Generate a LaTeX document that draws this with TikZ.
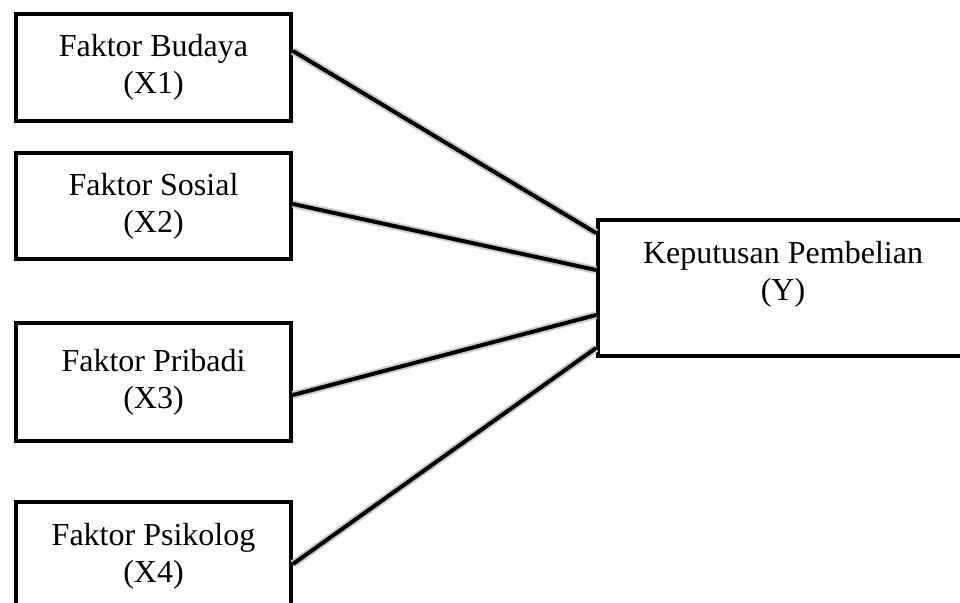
\documentclass[tikz,border=0pt]{standalone}
\usepackage{fontspec}
\setmainfont{Liberation Serif}
\usetikzlibrary{positioning}

\begin{document}
\begin{tikzpicture}
      \useasboundingbox (0,0) rectangle (960pt,-602pt);
      \begin{scope}[every node/.style={rectangle,draw,line width=4pt,align=center,
          font=\fontsize{32}{37}\selectfont,minimum width=275pt}]
        \node (X1) [minimum height=107pt] at (153.5pt,-67.5pt) {Faktor Budaya\\(X1)};
        \node (X2) [minimum height=106pt,below=28pt of X1] {Faktor Sosial\\(X2)};
        \node (X3) [minimum height=118pt,below=60pt of X2] {Faktor Pribadi\\(X3)};
        \node (X4) [minimum height=109pt,below=57pt of X3] {Faktor Psikolog\\(X4)};
        \node (Y) [minimum width=370pt,inner sep=0pt,text height=80pt,text depth=56pt]
          at (783pt,-288pt) {Keputusan Pembelian\\(Y)};
      \end{scope}
      \begin{scope}
        [every edge/.style={draw=black,line width=4pt,
          preaction={draw=black!20,line width=8pt}}]
        \path ([yshift=16.5pt]X1.east) edge ([yshift=55pt]Y.west);
        \path ([yshift=2pt]X2.east) edge ([yshift=18pt]Y.west);
        \path ([yshift=-13pt]X3.east) edge ([yshift=-27pt]Y.west);
        \path ([yshift=-7.5pt]X4.east) edge ([yshift=-60pt]Y.west);
      \end{scope}
    \end{tikzpicture}
\end{document}
